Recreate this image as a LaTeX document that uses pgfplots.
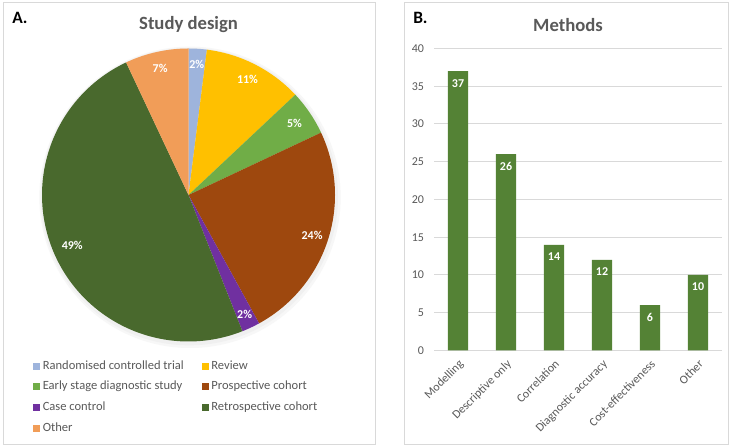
\documentclass[border=0pt]{standalone}
\usepackage{fontspec}
\setmainfont{Carlito}
\usepackage{pgfplots}
\pgfplotsset{compat=1.18}

\definecolor{cRand}{RGB}{158,180,220}
\definecolor{cReview}{RGB}{255,192,0}
\definecolor{cEarly}{RGB}{112,173,71}
\definecolor{cProsp}{RGB}{158,72,14}
\definecolor{cCase}{RGB}{112,48,160}
\definecolor{cRetro}{RGB}{73,105,45}
\definecolor{cOther}{RGB}{241,157,88}
\definecolor{cBar}{RGB}{84,130,53}
\definecolor{cTitle}{RGB}{89,89,89}
\definecolor{cGrid}{RGB}{217,217,217}
\definecolor{cBorder}{RGB}{217,217,217}

\begin{document}
\begin{tikzpicture}
\path[use as bounding box] (0,0) rectangle (552.75pt,336pt);
\fill[white] (0,0) rectangle (552.75pt,336pt);
\draw[cBorder, line width=0.75pt] (2.25pt,2.25pt) rectangle (281.25pt,333.75pt);
\draw[cBorder, line width=0.75pt] (303pt,2.25pt) rectangle (546pt,333.75pt);

\node[anchor=west, inner sep=0pt, font=\bfseries\fontsize{13}{15}\selectfont] at (9pt,322.5pt) {A.};
\node[font=\bfseries\fontsize{14}{16}\selectfont, text=cTitle] at (141.4pt,317.25pt) {Study design};
\node[anchor=west, inner sep=0pt, font=\bfseries\fontsize{13}{15}\selectfont] at (309.75pt,322.5pt) {B.};
\node[font=\bfseries\fontsize{14}{16}\selectfont, text=cTitle] at (426pt,317.25pt) {Methods};

% soft shadow behind the pie
\fill[black!3] (142.5pt,188pt) circle[radius=113pt];
\fill[black!6] (142pt,188.5pt) circle[radius=111.5pt];

% A. study design, shares in percent, clockwise from 12 o'clock
\begin{axis}[
    at={(141.375pt,189.75pt)}, anchor=center,
    scale only axis, width=219.75pt, height=219.75pt,
    xmin=-1, xmax=1, ymin=-1, ymax=1,
    hide axis, clip=false,
    legend columns=2,
    legend image code/.code={\fill[#1] (0pt,-2.6pt) rectangle (5.2pt,2.6pt);},
    legend style={at={(-0.031,-0.064)}, anchor=north west,
        draw=none, fill=none, inner sep=0pt,
        font=\fontsize{9.4}{10}\selectfont, text=cTitle,
        row sep=7pt,
        nodes={inner ysep=0pt, inner xsep=2pt, text height=6.5pt, text depth=2pt},
        /tikz/every even column/.append style={column sep=11.5pt}},
    legend cell align=left,
  ]
  \addplot[fill=cRand, draw=none, data cs=polar, domain=82.8:90, samples=8] {1} -- (axis cs:0,0) -- cycle;
  \addlegendentry{Randomised controlled trial}
  \addplot[fill=cReview, draw=none, data cs=polar, domain=43.2:82.8, samples=40] {1} -- (axis cs:0,0) -- cycle;
  \addlegendentry{Review}
  \addplot[fill=cEarly, draw=none, data cs=polar, domain=25.2:43.2, samples=20] {1} -- (axis cs:0,0) -- cycle;
  \addlegendentry{Early stage diagnostic study}
  \addplot[fill=cProsp, draw=none, data cs=polar, domain=-61.2:25.2, samples=80] {1} -- (axis cs:0,0) -- cycle;
  \addlegendentry{Prospective cohort}
  \addplot[fill=cCase, draw=none, data cs=polar, domain=-68.4:-61.2, samples=8] {1} -- (axis cs:0,0) -- cycle;
  \addlegendentry{Case control}
  \addplot[fill=cRetro, draw=none, data cs=polar, domain=-244.8:-68.4, samples=150] {1} -- (axis cs:0,0) -- cycle;
  \addlegendentry{Retrospective cohort}
  \addplot[fill=cOther, draw=none, data cs=polar, domain=-270:-244.8, samples=25] {1} -- (axis cs:0,0) -- cycle;
  \addlegendentry{Other}
  % percentage labels at the middle of each slice
  \addplot[draw=none, mark=none, data cs=polar, nodes near coords, point meta=explicit symbolic,
      nodes near coords align=center,
      every node near coord/.append style={font=\bfseries\fontsize{9}{10}\selectfont, text=white}]
    coordinates {(86.4,0.895) [2\%] (63,0.887) [11\%] (34.2,0.875) [5\%] (-18,0.887) [24\%]
                 (-64.8,0.9) [2\%] (-156.6,0.865) [49\%] (-257.4,0.887) [7\%]};
\end{axis}

% B. methods
\begin{axis}[
    at={(325.5pt,73.125pt)}, anchor=south west,
    scale only axis, width=216pt, height=226.5pt,
    ybar, bar width=0.42,
    xmin=-0.5, xmax=5.5, ymin=0, ymax=40,
    ytick={0,5,...,40}, xtick={0,...,5},
    xticklabels={Modelling, Descriptive only, Correlation, Diagnostic accuracy, Cost-effectiveness, Other},
    axis line style={draw=none}, tick style={draw=none},
    ymajorgrids, major grid style={cGrid, line width=0.75pt},
    ticklabel style={font=\fontsize{9}{10}\selectfont, text=cTitle},
    /pgf/number format/assume math mode=true,
    yticklabel style={xshift=-4pt},
    xticklabel style={rotate=45, anchor=north east, xshift=2pt, yshift=2pt},
    nodes near coords, nodes near coords align=north,
    every node near coord/.append style={font=\bfseries\fontsize{9}{10}\selectfont, text=white, yshift=-2.5pt},
  ]
  \addplot[fill=cBar, draw=none] coordinates {(0,37) (1,26) (2,14) (3,12) (4,6) (5,10)};
\end{axis}
\end{tikzpicture}
\end{document}
